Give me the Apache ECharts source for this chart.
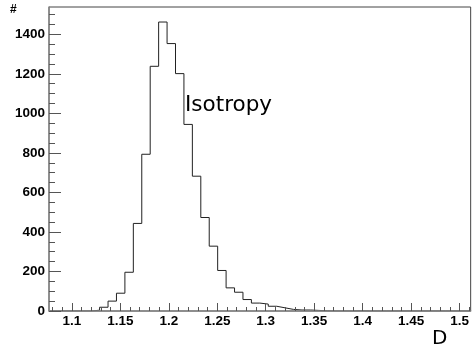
<!DOCTYPE html>
<html><head><meta charset="utf-8">
<script src="https://cdn.jsdelivr.net/npm/echarts@6/dist/echarts.min.js"></script>
<style>html,body{margin:0;padding:0;background:#fff}#c{width:472px;height:344px}</style>
</head><body><div id="c"></div>
<script>
// Histogram definition
const binStart = 1.0764;
const binWidth = 0.0087;
const counts = [0,0,0,0,0,4,19,50,90,196,443,793,1238,1462,1353,1201,944,682,473,328,205,117,95,58,40,35,24,16,8,5,5,3,1,0,0,0,1,0,0,0,0,0,0,0,0,0,0,0,0,0];
const xTickLabels = [1.1,1.15,1.2,1.25,1.3,1.35,1.4,1.45,1.5];
const yTickLabels = [0,200,400,600,800,1000,1200,1400];
const yMax = 1538;
const seriesLabel = 'Isotropy';
const xTitle = 'D';
const yTitle = '#';

const xMin = binStart;
const xMax = +(binStart + counts.length * binWidth).toFixed(6);
const xMinor = [];
for (let k = 108; k <= 151; k++) xMinor.push(+(k / 100).toFixed(2));
const yMinor = [];
for (let k = 0; k <= 1500; k += 50) yMinor.push(k);

const stepData = counts.map((c, i) => [+(binStart + i * binWidth).toFixed(6), c]);
stepData.push([xMax, counts[counts.length - 1]]);

const lab = {fontFamily:'Liberation Sans', fontWeight:'bold', fontSize:13.5, color:'#000'};
const chart = echarts.init(document.getElementById('c'), null, {renderer:'canvas'});
chart.setOption({
  animation:false,
  backgroundColor:'#fff',
  grid:{left:49, top:7, right:-2, bottom:33, show:true, borderColor:'#444', borderWidth:1, backgroundColor:'transparent'},
  title:[
    {text:seriesLabel, left:185, top:94, padding:0, textStyle:{fontFamily:'DejaVu Sans', fontSize:21.5, fontWeight:'normal', color:'#000'}},
    {text:xTitle, left:432, top:329, padding:0, textStyle:{fontFamily:'DejaVu Sans', fontSize:20, fontWeight:'normal', color:'#000'}},
    {text:yTitle, left:10, top:4, padding:0, textStyle:{fontFamily:'Liberation Sans', fontSize:12, fontWeight:'bold', color:'#000'}}
  ],
  xAxis:[
    {type:'value', min:xMin, max:xMax, position:'bottom', z:5,
     axisLine:{show:true, onZero:false, lineStyle:{color:'#888', width:1.5}},
     axisTick:{show:true, inside:true, length:8, customValues:xTickLabels, lineStyle:{color:'#555', width:1}},
     axisLabel:{show:true, customValues:xTickLabels, margin:3, formatter:v=>String(+(+v).toFixed(3)), ...lab},
     splitLine:{show:false}},
    {type:'value', min:xMin, max:xMax, position:'bottom', z:5,
     axisLine:{show:false},
     axisTick:{show:true, inside:true, length:4, customValues:xMinor, lineStyle:{color:'#555', width:1}},
     axisLabel:{show:false}, splitLine:{show:false}}
  ],
  yAxis:[
    {type:'value', min:0, max:yMax, position:'left', z:5,
     axisLine:{show:true, onZero:false, lineStyle:{color:'#888', width:1.5}},
     axisTick:{show:true, inside:true, length:12, customValues:yTickLabels, lineStyle:{color:'#555', width:1}},
     axisLabel:{show:true, customValues:yTickLabels, margin:4, formatter:v=>String(Math.round(v)), ...lab},
     splitLine:{show:false}},
    {type:'value', min:0, max:yMax, position:'left', z:5,
     axisLine:{show:false},
     axisTick:{show:true, inside:true, length:6, customValues:yMinor, lineStyle:{color:'#555', width:1}},
     axisLabel:{show:false}, splitLine:{show:false}}
  ],
  series:[{
    type:'line', name:seriesLabel, step:'end', data:stepData, xAxisIndex:0, yAxisIndex:0,
    showSymbol:false, symbol:'none', z:2,
    lineStyle:{color:'#222', width:1}
  }]
});
</script></body></html>
